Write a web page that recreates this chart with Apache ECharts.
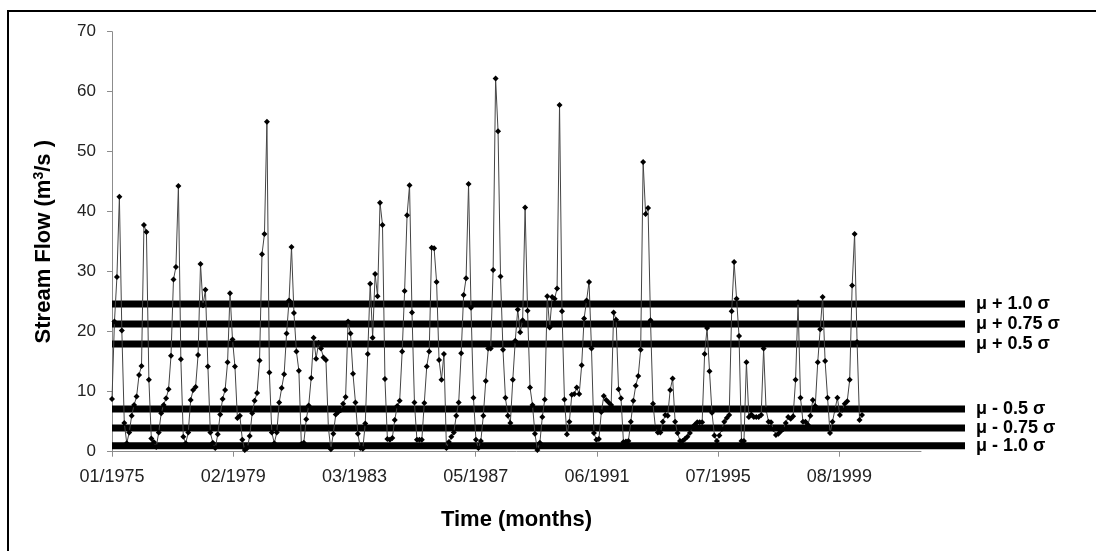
<!DOCTYPE html>
<html>
<head>
<meta charset="utf-8">
<script src="https://cdn.jsdelivr.net/npm/echarts@6/dist/echarts.min.js"></script>
<style>
  html, body { margin: 0; padding: 0; background: #fff; }
  #chart { width: 1096px; height: 551px; }
</style>
</head>
<body>
<div id="chart"></div>
<script>
// Monthly stream flow, Jan 1975 onwards (m3/s)
const flow = [
  8.8, 21.7, 29.1, 42.5, 20.2, 4.8, 1.4, 3.2, 6.0, 7.8, 9.2, 12.8,
  14.3, 37.8, 36.6, 12.0, 2.2, 1.6, 0.8, 3.2, 6.4, 7.8, 8.9, 10.4,
  16.0, 28.7, 30.8, 44.3, 15.4, 2.5, 1.4, 3.2, 8.6, 10.3, 10.8, 16.1,
  31.3, 24.4, 27.0, 14.2, 3.2, 1.5, 0.6, 2.9, 6.2, 8.8, 10.3, 14.9,
  26.4, 18.7, 14.2, 5.6, 6.0, 2.0, 0.3, 0.6, 2.6, 6.4, 8.5, 9.8,
  15.2, 32.9, 36.3, 55.0, 13.2, 3.2, 1.4, 3.2, 8.2, 10.6, 12.9, 19.7,
  25.2, 34.1, 23.1, 16.7, 13.5, 1.3, 1.5, 5.4, 7.7, 12.3, 19.0, 15.5,
  18.1, 17.2, 15.7, 15.3, 4.0, 0.4, 3.0, 6.2, 6.6, 6.9, 8.0, 9.1,
  21.7, 19.7, 13.0, 8.2, 3.0, 0.6, 0.5, 4.7, 16.3, 28.0, 19.0, 29.6,
  25.9, 41.5, 37.8, 12.1, 2.1, 2.0, 2.3, 5.3, 7.6, 8.5, 16.7, 26.8,
  39.4, 44.4, 23.2, 8.2, 2.0, 2.0, 2.0, 8.1, 14.2, 16.7, 34.0, 33.9,
  28.3, 15.3, 12.0, 16.3, 0.6, 1.6, 2.5, 3.2, 6.0, 8.2, 16.4, 26.1,
  28.9, 44.6, 24.0, 9.0, 2.0, 0.6, 1.8, 6.0, 11.8, 17.2, 17.2, 30.3,
  62.2, 53.4, 29.2, 17.0, 9.0, 6.0, 4.8, 12.0, 18.5, 23.7, 19.9, 21.9,
  40.7, 23.5, 10.7, 7.8, 3.0, 0.3, 1.5, 5.8, 8.7, 25.9, 20.7, 25.8,
  25.5, 27.2, 57.8, 23.4, 8.7, 2.9, 5.0, 9.5, 9.6, 10.7, 9.6, 14.4,
  22.2, 25.2, 28.3, 17.2, 3.1, 2.0, 2.1, 6.6, 9.3, 8.6, 8.2, 7.8,
  23.2, 22.0, 10.4, 8.9, 1.6, 1.7, 1.8, 5.0, 8.5, 11.0, 12.6, 17.0,
  48.3, 39.6, 40.6, 21.9, 8.0, 4.0, 3.2, 3.2, 5.0, 6.1, 6.0, 10.3,
  12.2, 5.0, 3.1, 1.8, 1.8, 2.1, 2.5, 3.1, 4.0, 4.5, 4.9, 4.9,
  4.9, 16.3, 20.6, 13.4, 6.5, 2.7, 1.8, 2.7, 3.8, 5.0, 5.6, 6.1,
  23.4, 31.6, 25.5, 19.3, 1.8, 1.8, 14.9, 5.8, 6.2, 5.8, 5.8, 5.8,
  6.1, 17.2, 7.0, 5.0, 4.9, 3.8, 2.8, 3.0, 3.4, 3.8, 4.8, 5.8,
  5.5, 5.9, 12.0, 24.9, 9.0, 5.0, 5.0, 4.5, 6.0, 8.6, 7.6, 14.9,
  20.4, 25.8, 15.1, 9.0, 3.1, 5.0, 7.0, 9.0, 6.1, 7.0, 8.0, 8.4,
  12.0, 27.7, 36.3, 18.3, 5.3, 6.1
];

// x axis tick positions (months since 01/1975) and their labels
const tickMonths = [0, 49.3, 98.6, 147.9, 197.2, 246.5, 295.8];
const tickLabels = ['01/1975', '02/1979', '03/1983', '05/1987', '06/1991', '07/1995', '08/1999'];
const xMax = 329;

// threshold levels
const levelNames = ['\u03bc + 1.0 \u03c3', '\u03bc + 0.75 \u03c3', '\u03bc + 0.5 \u03c3', '\u03bc - 0.5 \u03c3', '\u03bc - 0.75 \u03c3', '\u03bc - 1.0 \u03c3'];
const levelValues = [24.6, 21.3, 17.95, 7.1, 3.95, 1.0];

const font = "'Liberation Sans', Arial, sans-serif";

const chart = echarts.init(document.getElementById('chart'));

const levelSeries = levelNames.map((name, i) => ({
    name: name,
    type: 'line',
    xAxisIndex: 1, yAxisIndex: 1,
    data: [[0, levelValues[i]], [1, levelValues[i]]],
    symbol: 'none',
    silent: true,
    z: 1,
    lineStyle: { color: '#000', width: 7, cap: 'butt' },
    endLabel: {
        show: true, formatter: name, distance: 11,
        color: '#000', fontFamily: font, fontWeight: 'bold', fontSize: 18
    }
}));

chart.setOption({
    animation: false,
    grid: [
        { left: 112, right: 175, top: 31.7, bottom: 99.3 },
        { left: 112, right: 131, top: 31.7, bottom: 99.3 }
    ],
    xAxis: [{
        type: 'value', min: 0, max: xMax,
        name: 'Time (months)', nameLocation: 'middle', nameGap: 57,
        nameTextStyle: { color: '#000', fontFamily: font, fontWeight: 'bold', fontSize: 22 },
        axisLine: { lineStyle: { color: '#8c8c8c', width: 1 } },
        axisTick: { show: true, length: 5, lineStyle: { color: '#8c8c8c' }, customValues: tickMonths },
        axisLabel: {
            customValues: tickMonths, margin: 16,
            color: '#222', fontFamily: font, fontSize: 18,
            formatter: v => tickLabels[tickMonths.indexOf(v)] || ''
        },
        splitLine: { show: false }
    }, {
        gridIndex: 1, type: 'value', min: 0, max: 1, show: false
    }],
    yAxis: [{
        type: 'value', min: 0, max: 70, interval: 10,
        name: 'Stream Flow (m{sup|3}/s )', nameLocation: 'middle', nameGap: 56,
        nameTextStyle: {
            color: '#000', fontFamily: font, fontWeight: 'bold', fontSize: 22,
            rich: { sup: { fontFamily: font, fontWeight: 'bold', fontSize: 14, verticalAlign: 'top', padding: [0, 0, 10, 0] } }
        },
        axisLine: { show: true, lineStyle: { color: '#8c8c8c', width: 1 } },
        axisTick: { show: true, length: 5, lineStyle: { color: '#8c8c8c' } },
        axisLabel: { color: '#222', fontFamily: font, fontSize: 17, margin: 16 },
        splitLine: { show: false }
    }, {
        gridIndex: 1, type: 'value', min: 0, max: 70, show: false
    }],
    graphic: [{
        type: 'rect', silent: true,
        shape: { x: 8, y: 11, width: 1200, height: 700 },
        style: { fill: 'none', stroke: '#000', lineWidth: 2 }
    }],
    series: [{
        name: 'Stream Flow',
        type: 'line',
        data: flow.map((v, i) => [i, v]),
        symbol: 'diamond', symbolSize: 6,
        z: 3,
        lineStyle: { color: '#444', width: 1 },
        itemStyle: { color: '#000' }
    }].concat(levelSeries)
});
</script>
</body>
</html>
